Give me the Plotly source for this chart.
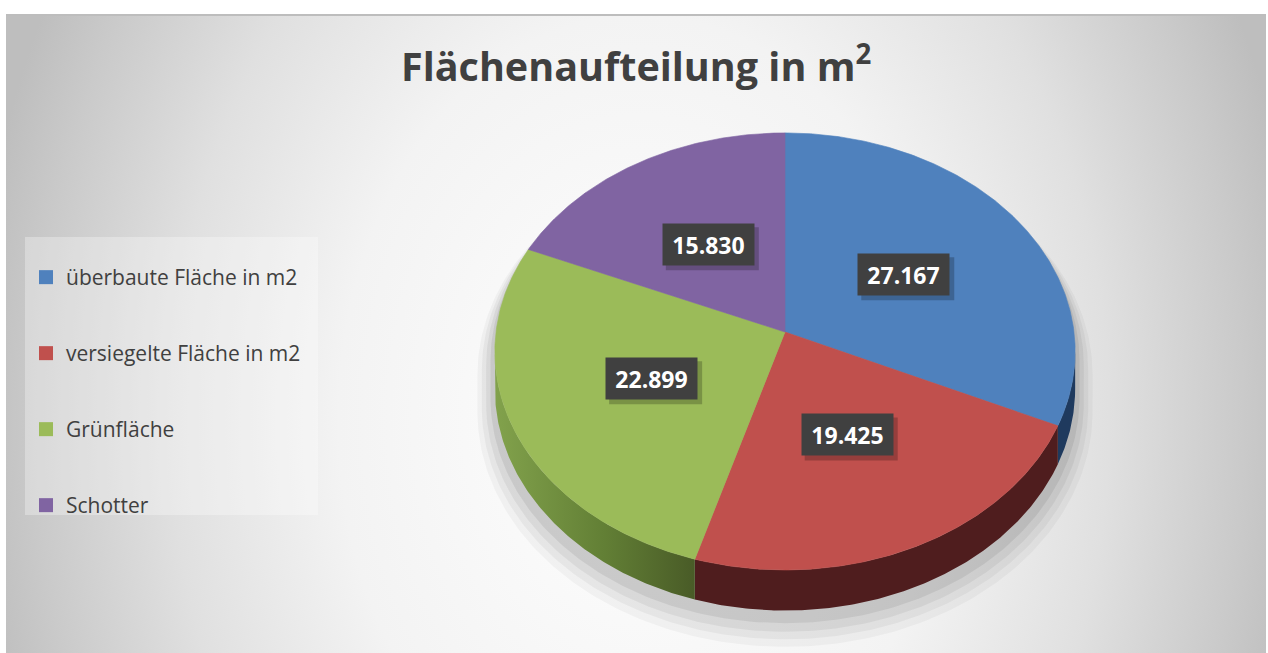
import math
import plotly.graph_objects as go

# ---------------- data ----------------
categories = ["überbaute Fläche in m2", "versiegelte Fläche in m2", "Grünfläche", "Schotter"]
values = [27167, 19425, 22899, 15830]
top_colors = ["#4f81bd", "#c0504d", "#9bbb59", "#8064a2"]
side_colors = ["#1f3a5e", "#4f1d1e", "#6a8a3a", "#3f3252"]
title_text = "Flächenaufteilung in m<sup>2</sup>"

# ---------------- geometry (pixel-space axes) ----------------
W, H = 1268, 653
CX, CY = 785.0, 332.0     # pie centre
R, RY = 289.0, 216.8      # radii of top face
K = 0.089                 # perspective factor
DEPTH = 37.0              # side wall depth
LABEL_R = 0.5

def proj(a_deg, r=1.0, dz=0.0, rscale=1.0):
    a = math.radians(a_deg)
    s = 1.0 / (1.0 + K * r * math.cos(a))
    x = CX + R * rscale * r * math.sin(a) * s
    y = CY - RY * rscale * r * math.cos(a) * s + dz * s
    return x, y

def arc(a1, a2, n_per_deg=2, **kw):
    n = max(2, int(abs(a2 - a1) * n_per_deg))
    return [proj(a1 + (a2 - a1) * i / n, **kw) for i in range(n + 1)]

total = sum(values)
starts, ends = [], []
acc = 0.0
for v in values:
    starts.append(acc / total * 360.0)
    acc += v
    ends.append(acc / total * 360.0)

A_SIL1 = math.degrees(math.acos(-K))          # right silhouette
A_SIL2 = 360.0 - A_SIL1                        # left silhouette

fig = go.Figure()

# background radial gradient
fig.add_trace(go.Scatter(
    x=[-30, 1310, 1310, -30, -30], y=[-480, -480, 1320, 1320, -480],
    mode="lines", line=dict(width=0), fill="toself",
    fillgradient=dict(type="radial",
                      colorscale=[[0, "#ffffff"], [0.45, "#f3f3f3"], [0.7, "#e0e0e0"],
                                  [0.9, "#cacaca"], [1, "#bebebe"]]),
    hoverinfo="skip", showlegend=False))

# soft shadow around the lower part of the pie
def silhouette(rscale, shift):
    pts = []
    for i in range(361):
        a = i
        front = math.cos(math.radians(a)) < -K
        x, y = proj(a, dz=DEPTH if front else 0.0, rscale=rscale)
        pts.append((x, y + shift))
    return pts

for rs, sh, al in [(1.06, 22, 0.035), (1.045, 18, 0.045), (1.03, 14, 0.055), (1.015, 9, 0.07)]:
    pts = silhouette(rs, sh)
    fig.add_trace(go.Scatter(
        x=[p[0] for p in pts], y=[p[1] for p in pts], mode="lines",
        line=dict(width=0), fill="toself", fillcolor=f"rgba(0,0,0,{al})",
        hoverinfo="skip", showlegend=False))

# side walls
for i in range(len(values)):
    a1 = max(starts[i], A_SIL1)
    a2 = min(ends[i], A_SIL2)
    if a2 <= a1:
        continue
    top = arc(a1, a2)
    bot = arc(a2, a1, dz=DEPTH)
    pts = top + bot + [top[0]]
    kw = dict(fillcolor=side_colors[i])
    if i == 2:
        kw = dict(fillgradient=dict(type="horizontal",
                                    colorscale=[[0, "#82a24c"], [0.55, "#627f35"], [1, "#495b27"]]))
    fig.add_trace(go.Scatter(
        x=[p[0] for p in pts], y=[p[1] for p in pts], mode="lines",
        line=dict(width=0), fill="toself", hoverinfo="skip", showlegend=False, **kw))

# top faces
for i in range(len(values)):
    pts = [(CX, CY)] + arc(starts[i], ends[i]) + [(CX, CY)]
    fig.add_trace(go.Scatter(
        x=[p[0] for p in pts], y=[p[1] for p in pts], mode="lines",
        line=dict(width=0.6, color=top_colors[i]), fill="toself", fillcolor=top_colors[i],
        hoverinfo="skip", showlegend=False))

# legend entries
for cat, col in zip(categories, top_colors):
    fig.add_trace(go.Scatter(
        x=[None], y=[None], mode="markers", name=cat, legendgroup=cat,
        marker=dict(symbol="square", size=14, color=col), showlegend=True))

# data labels
shapes = []
annotations = []
BW, BH = 91, 41
for i, v in enumerate(values):
    mid = (starts[i] + ends[i]) / 2.0
    lx, ly = proj(mid, r=LABEL_R)
    shapes.append(dict(type="rect", xref="x", yref="y", layer="above",
                       x0=lx - BW / 2 + 3, x1=lx + BW / 2 + 5, y0=ly - BH / 2 + 3, y1=ly + BH / 2 + 5,
                       fillcolor="rgba(0,0,0,0.22)", line=dict(width=0)))
    annotations.append(dict(
        x=lx, y=ly, xref="x", yref="y", showarrow=False,
        text=f"<b>{v:,}</b>".replace(",", "."),
        font=dict(family="Open Sans", size=23, color="#ffffff"),
        bgcolor="#404040", width=BW - 4, height=BH - 4, borderpad=2,
        xanchor="center", yanchor="middle"))

# title
annotations.append(dict(
    x=636, y=63, xref="x", yref="y", showarrow=False,
    text=f"<b>{title_text}</b>",
    font=dict(family="Open Sans", size=39.5, color="#404040"),
    xanchor="center", yanchor="middle"))

# legend box + top border
shapes.append(dict(type="rect", xref="x", yref="y", layer="above",
                   x0=25, x1=318, y0=237, y1=515,
                   fillcolor="rgba(255,255,255,0.3)", line=dict(width=0)))
shapes.append(dict(type="line", xref="x", yref="y", layer="above",
                   x0=6, x1=1266, y0=15, y1=15, line=dict(color="#bdbdbd", width=2)))

ML, MT, MR = 6, 14, 2
PW, PH = W - ML - MR, H - MT

fig.update_layout(
    width=W, height=H,
    margin=dict(l=ML, r=MR, t=MT, b=0, pad=0),
    paper_bgcolor="#ffffff", plot_bgcolor="#ffffff",
    xaxis=dict(range=[ML, W - MR], visible=False, fixedrange=True),
    yaxis=dict(range=[H, MT], visible=False, fixedrange=True),
    showlegend=True,
    legend=dict(
        x=(26 - ML) / PW, y=(H - 257) / PH, xanchor="left", yanchor="top",
        bgcolor="rgba(0,0,0,0)", tracegroupgap=45.7,
        font=dict(family="Open Sans", size=21, color="#404040"),
        itemclick=False, itemdoubleclick=False),
    shapes=shapes,
    annotations=annotations,
)

fig.write_html("out.html", config={"displayModeBar": False},
               post_script="document.body.style.margin='0';document.body.style.overflow='hidden';")
